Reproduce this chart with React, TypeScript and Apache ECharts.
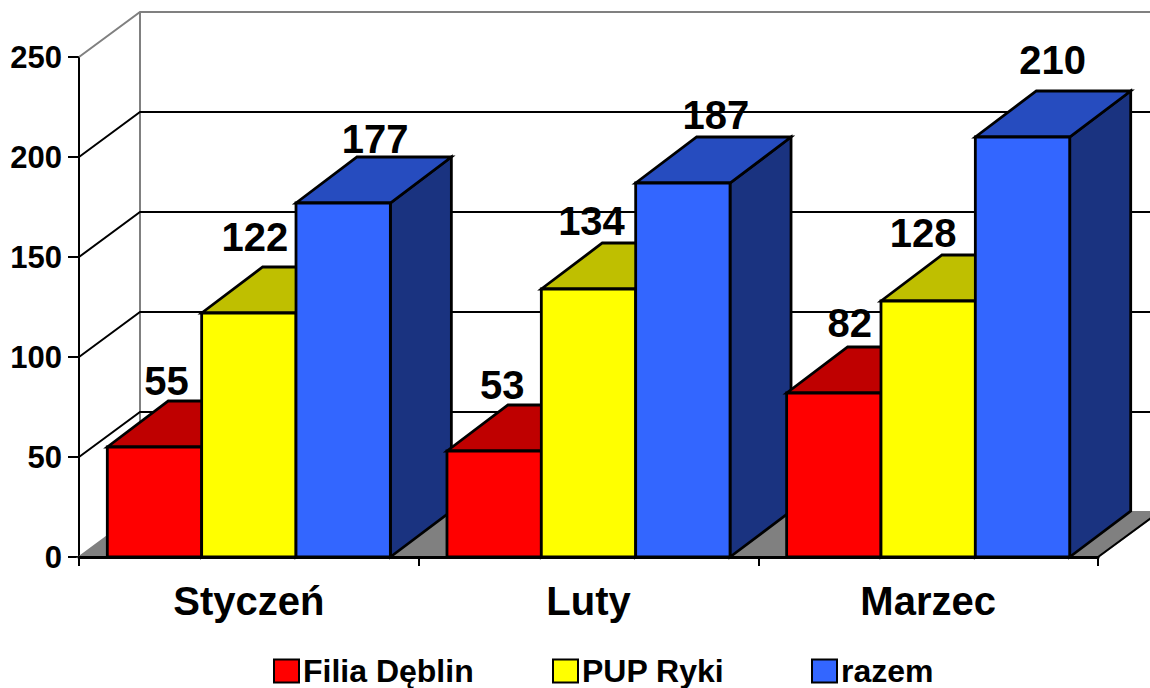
import React, { useEffect, useRef } from "react";
import * as echarts from "echarts";

const categories = ["Styczeń", "Luty", "Marzec"];
const seriesNames = ["Filia Dęblin", "PUP Ryki", "razem"];
const filiaDeblin = [55, 53, 82];
const pupRyki = [122, 134, 128];
const razem = [177, 187, 210];
const wallTicks = [0, 50, 100, 150, 200, 250];

const FONT = "Liberation Sans";
const DEPTH_X = 61;
const DEPTH_Y = 46;
const palette = [
  { front: "#ff0000", top: "#bf0000", side: "#800000" },
  { front: "#ffff00", top: "#bfbf00", side: "#808000" },
  { front: "#3366ff", top: "#264cbf", side: "#1a3380" },
];
// label offsets (px) relative to the front-top centre of each bar
const labelDx = [[12, 8, 16], [6, 3, -5], [32, 33, 30]];
const labelDy = [[-66, -66, -70], [-76, -68, -68], [-64, -68, -77]];

function barRenderer(seriesIndex: number) {
  return (params: any, api: any) => {
    const cat = api.value(0);
    const val = api.value(1);
    const catW = api.size([1, 0])[0];
    const w = catW / 3.6;
    const cx = api.coord([cat, 0])[0];
    const base = api.coord([cat, 0])[1];
    const top = api.coord([cat, val])[1];
    const l = cx - 1.5 * w + seriesIndex * w;
    const r = l + w;
    const z2 = cat * 10 + seriesIndex;
    const c = palette[seriesIndex];
    const stroke = { stroke: "#000", lineWidth: 2.8, lineJoin: "miter" };
    return {
      type: "group",
      children: [
        {
          type: "polygon",
          z2,
          shape: { points: [[r, base], [r + DEPTH_X, base - DEPTH_Y], [r + DEPTH_X, top - DEPTH_Y], [r, top]] },
          style: { fill: c.side, ...stroke },
        },
        {
          type: "polygon",
          z2,
          shape: { points: [[l, top], [l + DEPTH_X, top - DEPTH_Y], [r + DEPTH_X, top - DEPTH_Y], [r, top]] },
          style: { fill: c.top, ...stroke },
        },
        {
          type: "polygon",
          z2,
          shape: { points: [[l, base], [l, top], [r, top], [r, base]] },
          style: { fill: c.front, ...stroke },
        },
        {
          type: "text",
          z2: 100,
          style: {
            text: String(val),
            x: (l + r) / 2 + labelDx[seriesIndex][cat],
            y: top + labelDy[seriesIndex][cat],
            align: "center",
            verticalAlign: "middle",
            fill: "#000",
            fontFamily: FONT,
            fontWeight: "bold",
            fontSize: 40,
          },
        },
      ],
    };
  };
}

function wallRenderer(params: any, api: any) {
  const v = api.value(0);
  const sys = params.coordSys;
  const x0 = sys.x;
  const x1 = sys.x + sys.width;
  const y = api.coord([0, v])[1];
  const backY = y - 45;
  const backL = x0 + DEPTH_X;
  const backR = x1 + DEPTH_X;
  const children: any[] = [];
  if (v === 0) {
    children.push({
      type: "polygon",
      shape: { points: [[x0, y], [backL, backY], [backR, backY], [x1, y]] },
      style: { fill: "#808080", stroke: "#808080", lineWidth: 2 },
    });
    children.push({
      type: "line",
      shape: { x1, y1: y, x2: backR, y2: backY },
      style: { stroke: "#000", lineWidth: 2 },
    });
    children.push({
      type: "line",
      shape: { x1: backL, y1: backY, x2: backL, y2: sys.y - 45 },
      style: { stroke: "#808080", lineWidth: 2 },
    });
  } else {
    const color = v === 250 ? "#808080" : "#000";
    children.push({
      type: "polyline",
      shape: { points: [[x0, y], [backL, backY], [backR, backY]] },
      style: { stroke: color, fill: "none", lineWidth: 2 },
    });
  }
  return { type: "group", children };
}

const legendPos = [268, 547, 806];

export default function App() {
  const ref = useRef<HTMLDivElement>(null);
  useEffect(() => {
    const chart = echarts.init(ref.current!, null, { renderer: "svg" });
    const values = [filiaDeblin, pupRyki, razem];
    chart.setOption({
      animation: false,
      backgroundColor: "#fff",
      grid: { left: 79, right: 52, top: 57, bottom: 131, containLabel: false },
      legend: seriesNames.map((n, i) => ({
        data: [n],
        left: legendPos[i],
        top: 650,
        padding: 5,
        itemWidth: 25,
        itemHeight: 23,
        itemGap: 0,
        icon: "rect",
        selectedMode: false,
        itemStyle: { borderColor: "#000", borderWidth: 2 },
        textStyle: { fontFamily: FONT, fontWeight: "bold", fontSize: 32, color: "#000", padding: [0, 0, 0, -1] },
      })),
      xAxis: {
        type: "category",
        data: categories,
        z: 10,
        axisLine: { lineStyle: { color: "#000", width: 3 } },
        axisTick: { show: true, length: 9, alignWithLabel: false, lineStyle: { color: "#000", width: 2 } },
        axisLabel: { margin: 24, color: "#000", fontFamily: FONT, fontWeight: "bold", fontSize: 40 },
      },
      yAxis: {
        type: "value",
        min: 0,
        max: 250,
        interval: 50,
        splitLine: { show: false },
        axisLine: { show: true, lineStyle: { color: "#000", width: 2 } },
        axisTick: { show: true, length: 11, lineStyle: { color: "#000", width: 2 } },
        axisLabel: { margin: 17, color: "#000", fontFamily: FONT, fontWeight: "bold", fontSize: 31 },
      },
      series: [
        {
          type: "custom",
          name: "wall",
          z: 1,
          silent: true,
          clip: false,
          coordinateSystem: "cartesian2d",
          encode: { y: 0 },
          data: wallTicks.map((v) => [v]),
          renderItem: wallRenderer,
        },
        ...seriesNames.map((name, i) => ({
          type: "custom",
          name,
          z: 3,
          silent: true,
          clip: false,
          itemStyle: { color: palette[i].front },
          encode: { x: 0, y: 1 },
          data: values[i].map((v, c) => [c, v]),
          renderItem: barRenderer(i),
        })),
      ],
    });
    return () => chart.dispose();
  }, []);
  return <div ref={ref} style={{ position: "fixed", left: 0, top: 0, width: 1150, height: 688 }} />;
}
